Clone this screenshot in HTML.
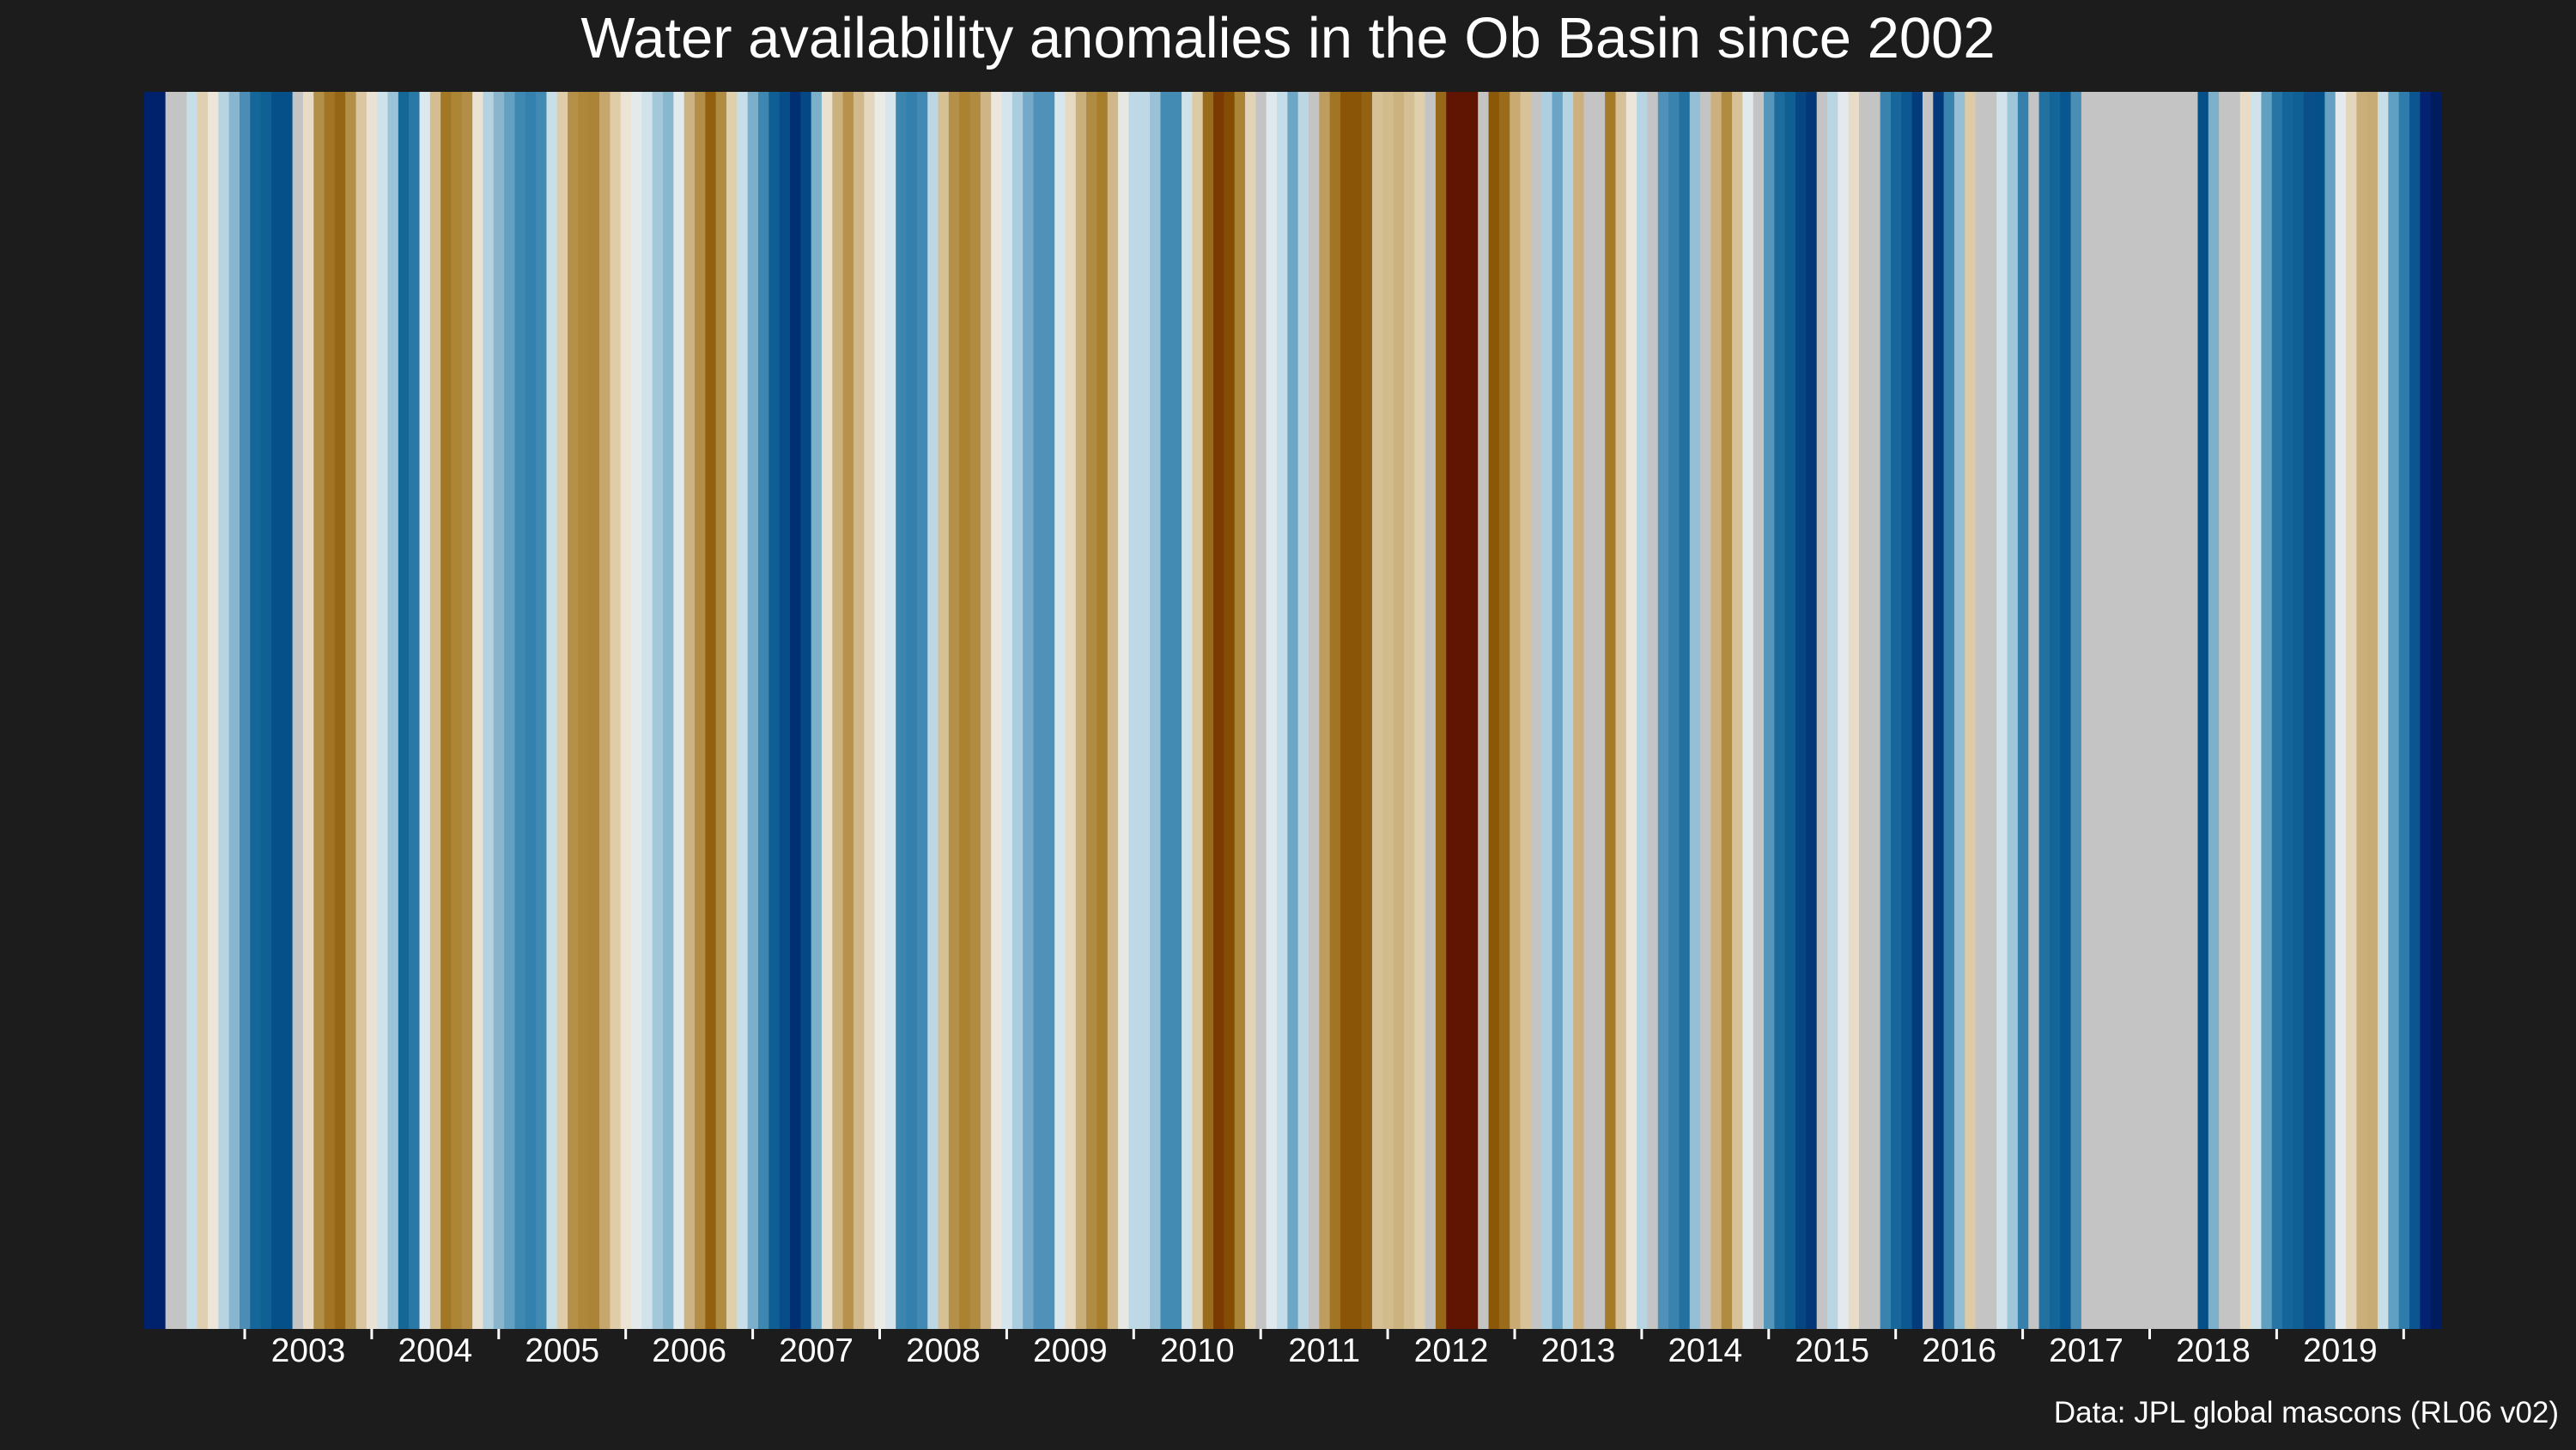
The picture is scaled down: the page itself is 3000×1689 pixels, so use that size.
<!DOCTYPE html>
<html><head><meta charset="utf-8"><style>
html,body{margin:0;padding:0;background:#1c1c1c;}
svg{display:block;}
text{font-family:"Liberation Sans",sans-serif;fill:#fff;}
</style></head><body>
<svg id="chart" width="3000" height="1689" viewBox="0 0 3000 1689">
<rect x="0" y="0" width="3000" height="1689" fill="#1c1c1c"/>
<text x="1500" y="67" text-anchor="middle" font-size="67">Water availability anomalies in the Ob Basin since 2002</text>
<g id="stripes"></g>
<g id="xaxis"></g>
<text x="2980" y="1657" text-anchor="end" font-size="35">Data: JPL global mascons (RL06 v02)</text>
</svg>
<script>
// Monthly stripe colours (anomaly class colours), Apr 2002 onward; grey = missing month
const stripeColors = [
"#00216b","#00216b","#c4c4c4","#c4c4c4","#c7dde8","#e0cfb0","#ede5d8","#b8d4e2","#88b6cf","#4b8db5",
"#15679a","#0f6193","#065089","#065089","#c4c4c4","#e8dcc6","#b39048","#a17524","#946615","#b39048",
"#dac6a2","#ebe2d6","#cfe1ea","#9bc3d8","#156796","#2a78a5","#dce7ee","#d4bd8f","#a27826","#ac8536",
"#b38e47","#ebe2d4","#b4d2e0","#89b5cd","#64a0c2","#3f88b2","#3581ad",
"#4289b3","#c8dfe8","#dfcca9","#b59048","#ae873a","#ac8437","#c6a86e","#dfcda9","#ebe3d4","#e4e9ec",
"#d0e2ea","#a4c8da","#89b7ce","#e3eaee","#cdb383","#b38e47","#92600f","#b08b42","#e0cfab","#c8dee8",
"#7bafcb","#3d87b1","#105f94","#074d89","#002f74","#044985","#7bb0cb","#ebe1cf","#ccb180","#b8924c",
"#d2b98b","#e5d7bf","#ebebe6","#d8e5ec","#3c86b0","#3480ac",
"#428ab3","#bcd7e3","#d6c096","#b59049","#aa8232","#b08b42","#cfb585","#ede6dc","#d5e5ed","#abcde0",
"#74aac8","#4f91b8","#4f91b8","#d8e6ed","#e6d9c1","#c9af79","#b08b42","#a77e2c","#d1b88a","#e8e8e2",
"#bed9e5","#bed9e5","#99c2d7","#448bb4","#448bb4","#cfe2ea","#ddcba5","#9a6c1b","#7a3a02","#854d04",
"#ab8435","#e3d3b6","#c4c4c4","#dfe8ed","#c5dde8","#6ea7c6",
"#bcd7e3","#c4c4c4","#bf9d5e","#a17524","#8a5506","#8a5506","#946213","#d6c197","#d2bb8c","#ccb27f",
"#d5bf95","#dfcfac","#c4c4c4","#976818","#601402","#601402","#601402","#c4c4c4","#8b5807","#9a6c1b",
"#c8aa73","#d8c399","#c4c4c4","#add0e0","#6ba5c5","#b4d4e2","#ccb17e","#c4c4c4","#c4c4c4","#a57a28",
"#d6c198","#ece5d9","#b7d5e3","#c4c4c4","#4f91b8","#3a83ae","#2371a1",
"#94bfd5","#c4c4c4","#ccb17e","#b08b42","#d6c198","#e2e9ed","#c4c4c4","#5597bb","#1d6c9d","#0f5f93",
"#064582","#023876","#c4c4c4","#bbd6e3","#e3e9ed","#e6dcc8","#c4c4c4","#c4c4c4","#3a83ae","#17679a",
"#0c5892","#033c7b","#c4c4c4","#02397a","#3a83ae","#94bfd5","#ddcba8","#c4c4c4","#c4c4c4","#d3e3ec",
"#9fc5d9","#3580ac","#c4c4c4","#2371a1","#14659a","#0a568e",
"#4a8db5","#c4c4c4","#c4c4c4","#c4c4c4","#c4c4c4","#c4c4c4","#c4c4c4","#c4c4c4","#c4c4c4","#c4c4c4",
"#c4c4c4","#c4c4c4","#065089","#7db1cb","#c4c4c4","#c4c4c4","#e8dcc6","#d0e2ea","#62a0c2","#2675a4",
"#14659a","#0f6094","#0a4f89","#065089","#66a1c2","#e5eaed","#e3d6bd","#cbaf7b","#c8ac76","#c8dee8",
"#60a0c2","#2f7caa","#0b5590","#032372","#001c60"
];
const tickYears = [2003,2004,2005,2006,2007,2008,2009,2010,2011,2012,2013,2014,2015,2016,2017,2018,2019,2020];
const labelYears = [2003,2004,2005,2006,2007,2008,2009,2010,2011,2012,2013,2014,2015,2016,2017,2018,2019];

const NS = "http://www.w3.org/2000/svg";
const plotL = 168, plotR = 2843, plotT = 107, plotB = 1548;
const n = stripeColors.length;
const bw = (plotR - plotL) / n;
function xIdx(i){ return plotL + i * bw; }
function xYear(y){ return 285 + (y - 2003) * 147.9; }

const gS = document.getElementById('stripes');
stripeColors.forEach((c, i) => {
  const r = document.createElementNS(NS, 'rect');
  r.setAttribute('x', xIdx(i));
  r.setAttribute('y', plotT);
  r.setAttribute('width', bw + 0.6);
  r.setAttribute('height', plotB - plotT);
  r.setAttribute('fill', c);
  
  
  gS.appendChild(r);
});

const gX = document.getElementById('xaxis');
tickYears.forEach(y => {
  const l = document.createElementNS(NS, 'line');
  const x = xYear(y);
  l.setAttribute('x1', x); l.setAttribute('x2', x);
  l.setAttribute('y1', plotB); l.setAttribute('y2', plotB + 12);
  l.setAttribute('stroke', '#ffffff'); l.setAttribute('stroke-width', 3);
  
  
  gX.appendChild(l);
});
labelYears.forEach(y => {
  const t = document.createElementNS(NS, 'text');
  t.setAttribute('x', xYear(y) + 73.95);
  t.setAttribute('y', 1586);
  t.setAttribute('text-anchor', 'middle');
  t.setAttribute('font-size', '39');
  t.textContent = y;
  
  
  gX.appendChild(t);
});
</script>
</body></html>
